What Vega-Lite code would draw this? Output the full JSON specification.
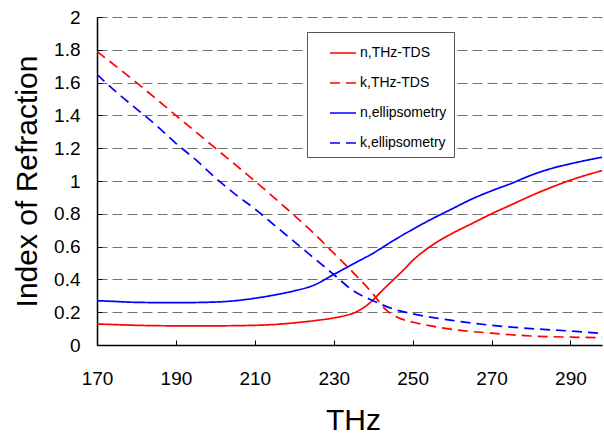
{
  "$schema": "https://vega.github.io/schema/vega-lite/v6.json",
  "width": 505,
  "height": 328,
  "autosize": {"type": "none"},
  "padding": {"left": 97, "top": 17, "right": 2, "bottom": 91},
  "background": "white",
  "config": {
    "view": {"stroke": null},
    "font": "Liberation Sans"
  },
  "data": {
    "values": [
      {"f": 170, "v": 0.128, "s": "n,THz-TDS"},
      {"f": 175, "v": 0.124, "s": "n,THz-TDS"},
      {"f": 180, "v": 0.12, "s": "n,THz-TDS"},
      {"f": 190, "v": 0.117, "s": "n,THz-TDS"},
      {"f": 200, "v": 0.117, "s": "n,THz-TDS"},
      {"f": 210, "v": 0.12, "s": "n,THz-TDS"},
      {"f": 215, "v": 0.125, "s": "n,THz-TDS"},
      {"f": 220, "v": 0.135, "s": "n,THz-TDS"},
      {"f": 225, "v": 0.148, "s": "n,THz-TDS"},
      {"f": 230, "v": 0.165, "s": "n,THz-TDS"},
      {"f": 233, "v": 0.18, "s": "n,THz-TDS"},
      {"f": 236, "v": 0.205, "s": "n,THz-TDS"},
      {"f": 238, "v": 0.235, "s": "n,THz-TDS"},
      {"f": 240, "v": 0.275, "s": "n,THz-TDS"},
      {"f": 242, "v": 0.325, "s": "n,THz-TDS"},
      {"f": 245, "v": 0.395, "s": "n,THz-TDS"},
      {"f": 248, "v": 0.465, "s": "n,THz-TDS"},
      {"f": 250, "v": 0.515, "s": "n,THz-TDS"},
      {"f": 253, "v": 0.575, "s": "n,THz-TDS"},
      {"f": 256, "v": 0.625, "s": "n,THz-TDS"},
      {"f": 260, "v": 0.68, "s": "n,THz-TDS"},
      {"f": 265, "v": 0.74, "s": "n,THz-TDS"},
      {"f": 270, "v": 0.8, "s": "n,THz-TDS"},
      {"f": 275, "v": 0.855, "s": "n,THz-TDS"},
      {"f": 280, "v": 0.91, "s": "n,THz-TDS"},
      {"f": 285, "v": 0.96, "s": "n,THz-TDS"},
      {"f": 290, "v": 1.005, "s": "n,THz-TDS"},
      {"f": 295, "v": 1.043, "s": "n,THz-TDS"},
      {"f": 298, "v": 1.063, "s": "n,THz-TDS"},

      {"f": 170, "v": 1.79, "s": "k,THz-TDS"},
      {"f": 180, "v": 1.6, "s": "k,THz-TDS"},
      {"f": 190, "v": 1.4, "s": "k,THz-TDS"},
      {"f": 200, "v": 1.2, "s": "k,THz-TDS"},
      {"f": 210, "v": 1.0, "s": "k,THz-TDS"},
      {"f": 220, "v": 0.79, "s": "k,THz-TDS"},
      {"f": 225, "v": 0.68, "s": "k,THz-TDS"},
      {"f": 230, "v": 0.56, "s": "k,THz-TDS"},
      {"f": 235, "v": 0.44, "s": "k,THz-TDS"},
      {"f": 240, "v": 0.31, "s": "k,THz-TDS"},
      {"f": 243, "v": 0.22, "s": "k,THz-TDS"},
      {"f": 246, "v": 0.17, "s": "k,THz-TDS"},
      {"f": 250, "v": 0.14, "s": "k,THz-TDS"},
      {"f": 255, "v": 0.115, "s": "k,THz-TDS"},
      {"f": 260, "v": 0.095, "s": "k,THz-TDS"},
      {"f": 270, "v": 0.072, "s": "k,THz-TDS"},
      {"f": 280, "v": 0.055, "s": "k,THz-TDS"},
      {"f": 290, "v": 0.048, "s": "k,THz-TDS"},
      {"f": 298, "v": 0.045, "s": "k,THz-TDS"},

      {"f": 170, "v": 0.27, "s": "n,ellipsometry"},
      {"f": 175, "v": 0.265, "s": "n,ellipsometry"},
      {"f": 180, "v": 0.26, "s": "n,ellipsometry"},
      {"f": 190, "v": 0.258, "s": "n,ellipsometry"},
      {"f": 200, "v": 0.262, "s": "n,ellipsometry"},
      {"f": 205, "v": 0.27, "s": "n,ellipsometry"},
      {"f": 210, "v": 0.285, "s": "n,ellipsometry"},
      {"f": 215, "v": 0.305, "s": "n,ellipsometry"},
      {"f": 220, "v": 0.33, "s": "n,ellipsometry"},
      {"f": 225, "v": 0.365, "s": "n,ellipsometry"},
      {"f": 230, "v": 0.43, "s": "n,ellipsometry"},
      {"f": 235, "v": 0.495, "s": "n,ellipsometry"},
      {"f": 240, "v": 0.56, "s": "n,ellipsometry"},
      {"f": 245, "v": 0.635, "s": "n,ellipsometry"},
      {"f": 250, "v": 0.705, "s": "n,ellipsometry"},
      {"f": 255, "v": 0.77, "s": "n,ellipsometry"},
      {"f": 260, "v": 0.83, "s": "n,ellipsometry"},
      {"f": 265, "v": 0.89, "s": "n,ellipsometry"},
      {"f": 270, "v": 0.94, "s": "n,ellipsometry"},
      {"f": 275, "v": 0.985, "s": "n,ellipsometry"},
      {"f": 280, "v": 1.035, "s": "n,ellipsometry"},
      {"f": 285, "v": 1.075, "s": "n,ellipsometry"},
      {"f": 290, "v": 1.105, "s": "n,ellipsometry"},
      {"f": 298, "v": 1.145, "s": "n,ellipsometry"},

      {"f": 170, "v": 1.65, "s": "k,ellipsometry"},
      {"f": 175, "v": 1.54, "s": "k,ellipsometry"},
      {"f": 180, "v": 1.44, "s": "k,ellipsometry"},
      {"f": 185, "v": 1.34, "s": "k,ellipsometry"},
      {"f": 190, "v": 1.23, "s": "k,ellipsometry"},
      {"f": 195, "v": 1.13, "s": "k,ellipsometry"},
      {"f": 200, "v": 1.02, "s": "k,ellipsometry"},
      {"f": 205, "v": 0.92, "s": "k,ellipsometry"},
      {"f": 210, "v": 0.83, "s": "k,ellipsometry"},
      {"f": 215, "v": 0.73, "s": "k,ellipsometry"},
      {"f": 220, "v": 0.63, "s": "k,ellipsometry"},
      {"f": 225, "v": 0.53, "s": "k,ellipsometry"},
      {"f": 230, "v": 0.43, "s": "k,ellipsometry"},
      {"f": 235, "v": 0.33, "s": "k,ellipsometry"},
      {"f": 240, "v": 0.27, "s": "k,ellipsometry"},
      {"f": 245, "v": 0.22, "s": "k,ellipsometry"},
      {"f": 250, "v": 0.19, "s": "k,ellipsometry"},
      {"f": 260, "v": 0.15, "s": "k,ellipsometry"},
      {"f": 270, "v": 0.12, "s": "k,ellipsometry"},
      {"f": 280, "v": 0.1, "s": "k,ellipsometry"},
      {"f": 290, "v": 0.085, "s": "k,ellipsometry"},
      {"f": 298, "v": 0.07, "s": "k,ellipsometry"}
    ]
  },
  "mark": {"type": "line", "strokeWidth": 1.7, "interpolate": "monotone", "clip": true},
  "encoding": {
    "x": {
      "field": "f",
      "type": "quantitative",
      "scale": {"domain": [170, 298], "nice": false, "zero": false},
      "axis": {
        "title": "THz",
        "values": [170, 190, 210, 230, 250, 270, 290],
        "grid": false,
        "labelFlush": false,
        "labelOverlap": false,
        "domainColor": "black",
        "domainWidth": 1.5,
        "tickColor": "black",
        "tickSize": -5,
        "labelFontSize": 19,
        "labelColor": "black",
        "labelPadding": 29,
        "labelFont": "Liberation Sans",
        "titleFont": "Liberation Sans",
        "titleFontSize": 30,
        "titleFontWeight": "normal",
        "titleColor": "black",
        "titleX": 256,
        "titleY": 84,
        "titleBaseline": "alphabetic",
        "titleAnchor": "middle",
        "titleAlign": "center"
      }
    },
    "y": {
      "field": "v",
      "type": "quantitative",
      "scale": {"domain": [0, 2], "nice": false},
      "axis": {
        "title": "Index of Refraction",
        "values": [0, 0.2, 0.4, 0.6, 0.8, 1, 1.2, 1.4, 1.6, 1.8, 2],
        "labelExpr": "datum.value",
        "labelFlush": false,
        "labelOverlap": false,
        "grid": true,
        "gridColor": "#707070",
        "gridDash": [10, 5],
        "gridWidth": 1,
        "domainColor": "black",
        "domainWidth": 1.5,
        "tickColor": "black",
        "tickSize": -5,
        "labelFontSize": 19,
        "labelColor": "black",
        "labelPadding": 22,
        "labelFont": "Liberation Sans",
        "titleFont": "Liberation Sans",
        "titleFontSize": 30,
        "titleFontWeight": "normal",
        "titleColor": "black",
        "titleX": -61,
        "titleY": 164,
        "titleBaseline": "alphabetic",
        "titleAngle": -90,
        "titleAlign": "center"
      }
    },
    "color": {
      "field": "s",
      "type": "nominal",
      "scale": {
        "domain": ["n,THz-TDS", "k,THz-TDS", "n,ellipsometry", "k,ellipsometry"],
        "range": ["#FF0000", "#FF0000", "#0000FF", "#0000FF"]
      },
      "legend": {
        "title": null,
        "orient": "none",
        "legendX": 210,
        "legendY": 15,
        "fillColor": "white",
        "strokeColor": "#555555",
        "padding": 7,
        "symbolType": "stroke",
        "symbolSize": 676,
        "symbolStrokeWidth": 1.7,
        "symbolOffset": 15,
        "labelOffset": 3,
        "labelFontSize": 14,
        "labelFont": "Liberation Sans",
        "labelColor": "black",
        "rowPadding": 9
      }
    },
    "strokeDash": {
      "field": "s",
      "type": "nominal",
      "scale": {
        "domain": ["n,THz-TDS", "k,THz-TDS", "n,ellipsometry", "k,ellipsometry"],
        "range": [[1, 0], [10, 6], [1, 0], [10, 6]]
      },
      "legend": {
        "title": null,
        "orient": "none",
        "legendX": 210,
        "legendY": 15,
        "fillColor": "white",
        "strokeColor": "#555555",
        "padding": 7,
        "symbolType": "stroke",
        "symbolSize": 676,
        "symbolStrokeWidth": 1.7,
        "symbolOffset": 15,
        "labelOffset": 3,
        "labelFontSize": 14,
        "labelFont": "Liberation Sans",
        "labelColor": "black",
        "rowPadding": 9
      }
    }
  }
}
